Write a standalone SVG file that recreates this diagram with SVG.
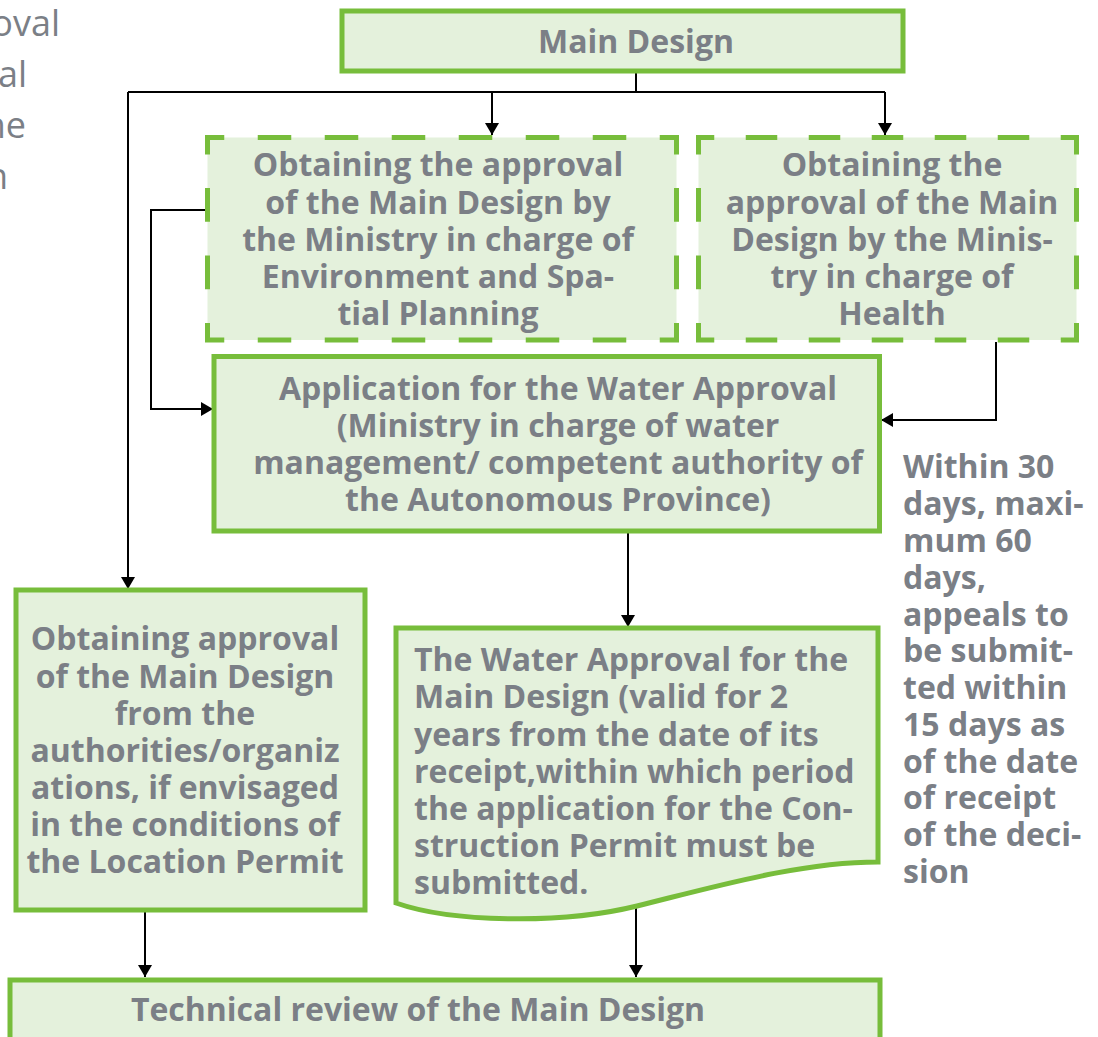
<svg xmlns="http://www.w3.org/2000/svg" width="1098" height="1037" viewBox="0 0 1098 1037">
  <defs>
    <style>
      .box { fill: #e4f1dc; stroke: #77bd3b; stroke-width: 5; }
      .area { fill: #e4f1dc; stroke: none; }
      .edge { fill: none; stroke: #77bd3b; stroke-width: 5; stroke-linejoin: miter; }
      .dh1 { stroke-dasharray: 33.5 33.5; }
      .dh2 { stroke-dasharray: 31.5 31.5; }
      .dv { stroke-dasharray: 33.75 33.75; }
      .lbl { font-family: "Open Sans", "Liberation Sans", sans-serif; font-weight: 700; font-size: 32px; fill: #7b7f86; }
      .mid { text-anchor: middle; }
      .frag { font-family: "Open Sans", "Liberation Sans", sans-serif; font-weight: 400; font-size: 36px; fill: #7b7f86; text-anchor: end; }
      .link { fill: none; stroke: #000; stroke-width: 2; }
    </style>
    <marker id="arrow" viewBox="0 0 12 14" refX="12" refY="7" markerWidth="12" markerHeight="14" markerUnits="userSpaceOnUse" orient="auto">
      <path d="M0,0 L12,7 L0,14 Z" fill="#000"/>
    </marker>
  </defs>

  <!-- text continued from the previous column -->
  <g id="margin-text">
    <text class="frag" x="60" y="36">oval</text>
    <text class="frag" x="27" y="87">al</text>
    <text class="frag" x="26" y="138">ne</text>
    <text class="frag" x="8" y="189">n</text>
  </g>

  <!-- connectors -->
  <g id="connectors">
    <path class="link" d="M636,71 V92 M128,92 H885"/>
    <path class="link" d="M492,92 V135" marker-end="url(#arrow)"/>
    <path class="link" d="M885,92 V135" marker-end="url(#arrow)"/>
    <path class="link" d="M128,92 V589" marker-end="url(#arrow)"/>
    <path class="link" d="M208,210 H151 V409 H213" marker-end="url(#arrow)"/>
    <path class="link" d="M996,342 V420 H881" marker-end="url(#arrow)"/>
    <path class="link" d="M628,533 V627" marker-end="url(#arrow)"/>
    <path class="link" d="M145,912 V977" marker-end="url(#arrow)"/>
    <path class="link" d="M636,905 V977" marker-end="url(#arrow)"/>
  </g>

  <g id="main-design">
    <rect class="box" x="342" y="11" width="561" height="60"/>
    <text class="lbl mid" x="636" y="53">Main Design</text>
  </g>

  <g id="approval-environment">
    <rect class="area" x="207.5" y="137.5" width="469" height="202.5"/>
    <!-- corners -->
    <polyline class="edge" points="207.5,154.4 207.5,137.5 224.25,137.5"/>
    <polyline class="edge" points="659.75,137.5 676.5,137.5 676.5,154.4"/>
    <polyline class="edge" points="676.5,323.1 676.5,340 659.75,340"/>
    <polyline class="edge" points="224.25,340 207.5,340 207.5,323.1"/>
    <!-- sides -->
    <line class="edge dh1" x1="257.75" y1="137.5" x2="626.25" y2="137.5"/>
    <line class="edge dh1" x1="257.75" y1="340" x2="626.25" y2="340"/>
    <line class="edge dv" x1="207.5" y1="188.1" x2="207.5" y2="289.4"/>
    <line class="edge dv" x1="676.5" y1="188.1" x2="676.5" y2="289.4"/>
    <text class="lbl mid" x="438" y="176">Obtaining the approval</text>
    <text class="lbl mid" x="438" y="214">of the Main Design by</text>
    <text class="lbl mid" x="438" y="251">the Ministry in charge of</text>
    <text class="lbl mid" x="438" y="288">Environment and Spa-</text>
    <text class="lbl mid" x="438" y="325">tial Planning</text>
  </g>

  <g id="approval-health">
    <rect class="area" x="698.5" y="137.5" width="378" height="202.5"/>
    <polyline class="edge" points="698.5,154.4 698.5,137.5 714.25,137.5"/>
    <polyline class="edge" points="1060.75,137.5 1076.5,137.5 1076.5,154.4"/>
    <polyline class="edge" points="1076.5,323.1 1076.5,340 1060.75,340"/>
    <polyline class="edge" points="714.25,340 698.5,340 698.5,323.1"/>
    <line class="edge dh2" x1="745.75" y1="137.5" x2="1029.25" y2="137.5"/>
    <line class="edge dh2" x1="745.75" y1="340" x2="1029.25" y2="340"/>
    <line class="edge dv" x1="698.5" y1="188.1" x2="698.5" y2="289.4"/>
    <line class="edge dv" x1="1076.5" y1="188.1" x2="1076.5" y2="289.4"/>
    <text class="lbl mid" x="892" y="176">Obtaining the</text>
    <text class="lbl mid" x="892" y="214">approval of the Main</text>
    <text class="lbl mid" x="892" y="251">Design by the Minis-</text>
    <text class="lbl mid" x="892" y="288">try in charge of</text>
    <text class="lbl mid" x="892" y="325">Health</text>
  </g>

  <g id="water-application">
    <rect class="box" x="214" y="356.5" width="665.5" height="174.5"/>
    <text class="lbl mid" x="558" y="400">Application for the Water Approval</text>
    <text class="lbl mid" x="558" y="437">(Ministry in charge of water</text>
    <text class="lbl mid" x="558" y="474">management/ competent authority of</text>
    <text class="lbl mid" x="558" y="511">the Autonomous Province)</text>
  </g>

  <g id="deadline-note">
    <text class="lbl" x="903" y="478">Within 30</text>
    <text class="lbl" x="903" y="515">days, maxi-</text>
    <text class="lbl" x="903" y="552">mum 60</text>
    <text class="lbl" x="903" y="589">days,</text>
    <text class="lbl" x="903" y="626">appeals to</text>
    <text class="lbl" x="903" y="662">be submit-</text>
    <text class="lbl" x="903" y="699">ted within</text>
    <text class="lbl" x="903" y="736">15 days as</text>
    <text class="lbl" x="903" y="773">of the date</text>
    <text class="lbl" x="903" y="809">of receipt</text>
    <text class="lbl" x="903" y="846">of the deci-</text>
    <text class="lbl" x="903" y="883">sion</text>
  </g>

  <g id="other-authorities">
    <rect class="box" x="16" y="590" width="349" height="320"/>
    <text class="lbl mid" x="185" y="650">Obtaining approval</text>
    <text class="lbl mid" x="185" y="688">of the Main Design</text>
    <text class="lbl mid" x="185" y="725">from the</text>
    <text class="lbl mid" x="185" y="762">authorities/organiz</text>
    <text class="lbl mid" x="185" y="799">ations, if envisaged</text>
    <text class="lbl mid" x="185" y="836">in the conditions of</text>
    <text class="lbl mid" x="185" y="873">the Location Permit</text>
  </g>

  <g id="water-approval-document">
    <path class="box" d="M396,628 H878 V862 C800,862 714,887 637,906 C560,925 450,922 396,903 Z"/>
    <text class="lbl" x="414" y="671">The Water Approval for the</text>
    <text class="lbl" x="414" y="708">Main Design (valid for 2</text>
    <text class="lbl" x="414" y="746">years from the date of its</text>
    <text class="lbl" x="414" y="783">receipt,within which period</text>
    <text class="lbl" x="414" y="820">the application for the Con-</text>
    <text class="lbl" x="414" y="857">struction Permit must be</text>
    <text class="lbl" x="414" y="894">submitted.</text>
  </g>

  <g id="technical-review">
    <rect class="box" x="10" y="980" width="870" height="80"/>
    <text class="lbl mid" x="418" y="1021">Technical review of the Main Design</text>
  </g>
</svg>
